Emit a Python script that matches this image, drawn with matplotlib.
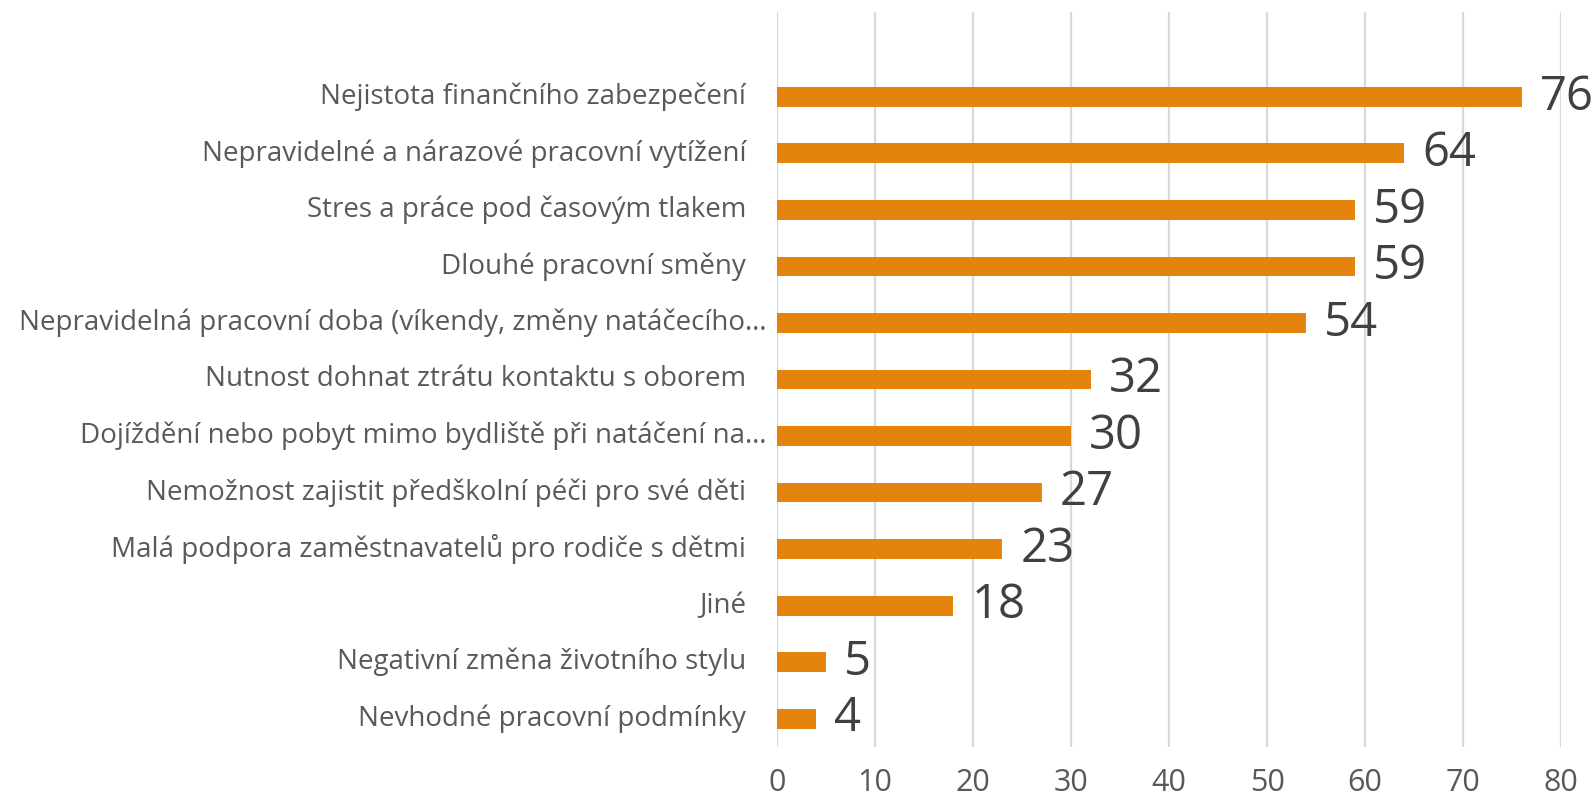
import matplotlib.pyplot as plt

# DATA
categories = [
    'Nejistota finančního zabezpečení',
    'Nepravidelné a nárazové pracovní vytížení',
    'Stres a práce pod časovým tlakem',
    'Dlouhé pracovní směny',
    'Nepravidelná pracovní doba (víkendy, změny natáčecího…',
    'Nutnost dohnat ztrátu kontaktu s oborem',
    'Dojíždění nebo pobyt mimo bydliště při natáčení na…',
    'Nemožnost zajistit předškolní péči pro své děti',
    'Malá podpora zaměstnavatelů pro rodiče s dětmi',
    'Jiné',
    'Negativní změna životního stylu',
    'Nevhodné pracovní podmínky',
]
values = [76, 64, 59, 59, 54, 32, 30, 27, 23, 18, 5, 4]
truncated = [False, False, False, False, True, False, True, False, False, False, False, False]
x_ticks = [0, 10, 20, 30, 40, 50, 60, 70, 80]

plt.rcParams['font.family'] = ['Open Sans', 'DejaVu Sans']

fig = plt.figure(figsize=(15.96, 8), dpi=100)
ax = fig.add_axes([777 / 1596, 1 - 747 / 800, 784 / 1596, 735 / 800])

pos = list(range(len(values)))
ax.barh(pos, values, height=0.35, color='#E5830F', zorder=3)

# DATA LABELS
for p, v in zip(pos, values):
    ax.annotate(str(v), (v, p), xytext=(13, 0), textcoords='offset points',
                va='center', ha='left', fontsize=34, color='#404040')

# CATEGORY LABELS
tr = ax.get_yaxis_transform()
for p, c, t in zip(pos, categories, truncated):
    ax.text(-0.0128 if t else -0.0395, p, c, transform=tr, ha='right', va='center',
            fontsize=20, color='#595959')

ax.set_xlim(0, 80)
ax.set_ylim(11.5, -1.5)
ax.set_xticks(x_ticks)
ax.set_yticks([])
ax.tick_params(axis='x', length=0, pad=15, labelsize=22, labelcolor='#595959')
ax.grid(axis='x', color='#d9d9d9', linewidth=1.6, zorder=0)
for s in ax.spines.values():
    s.set_visible(False)

fig.savefig('out.png', dpi=100)
